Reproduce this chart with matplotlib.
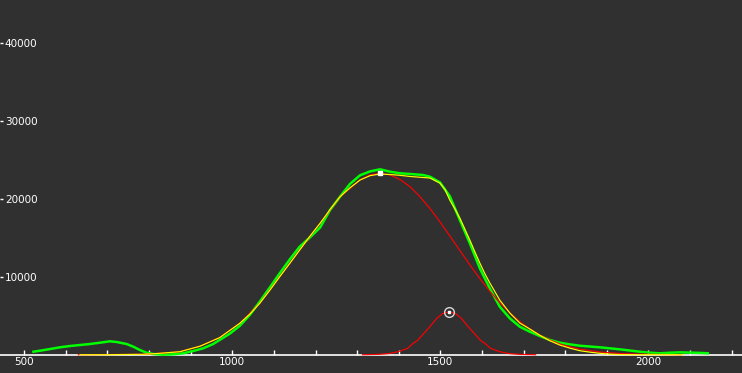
import numpy as np
import matplotlib
matplotlib.use("Agg")
import matplotlib.pyplot as plt
from matplotlib.ticker import MultipleLocator, FixedLocator

# measured spectrum (green)
meas_x = [522, 538, 562, 586, 610, 634, 658, 682, 706, 722, 746, 762, 778, 794, 810, 834, 858,
          882, 906, 930, 954, 970, 994, 1018, 1042, 1066, 1090, 1114, 1138, 1162, 1186, 1211,
          1235, 1259, 1283, 1307, 1331, 1355, 1379, 1403, 1427, 1458, 1475, 1499, 1523, 1547,
          1571, 1595, 1619, 1643, 1667, 1691, 1715, 1739, 1763, 1787, 1811, 1835, 1859, 1883,
          1907, 1931, 1955, 1979, 2003, 2027, 2051, 2075, 2091, 2107, 2125, 2143]
meas_y = [385, 513, 730, 950, 1115, 1244, 1372, 1540, 1718, 1628, 1372, 1026, 600, 256, 90, 0, 50,
          180, 474, 820, 1372, 1900, 2700, 3700, 5100, 6800, 8600, 10436, 12200, 13850, 15000, 16300,
          18550, 20256, 21900, 23000, 23500, 23770, 23460, 23260, 23170, 23040, 22820, 22100, 20300, 17270,
          14280, 11080, 8510, 6150, 4670, 3590, 2950, 2400, 1900, 1540, 1330, 1150, 1050, 950,
          820, 690, 540, 385, 260, 180, 250, 300, 280, 256, 230, 180]

# total fit (yellow)
fit_x = [634, 700, 785, 826, 874, 923, 970, 1018, 1042, 1066, 1090, 1114, 1138, 1162, 1186, 1211,
         1235, 1259, 1283, 1307, 1331, 1355, 1379, 1403, 1427, 1451, 1475, 1499, 1511, 1523, 1535,
         1547, 1559, 1571, 1583, 1595, 1607, 1619, 1631, 1643, 1667, 1691, 1715, 1739, 1763, 1787,
         1811, 1835, 1859, 1883, 1907, 1931, 1960, 2083]
fit_y = [0, 0, 50, 180, 385, 1100, 2200, 4026, 5200, 6590, 8250, 10000, 11700, 13423, 15150, 16846,
         18600, 20256, 21400, 22397, 22950, 23167, 23100, 23000, 22850, 22750, 22650, 22000, 21200, 19800, 18700,
         17500, 16100, 14700, 13200, 11750, 10400, 9200, 8100, 7000, 5350, 4060, 3300, 2500, 1800, 1244,
         850, 513, 330, 180, 80, 20, 0, 0]

# component 1 (red, broad)
p1_x = [630, 785, 826, 874, 923, 970, 1018, 1066, 1114, 1162, 1211, 1259, 1307, 1331, 1355, 1379,
        1403, 1427, 1451, 1475, 1499, 1523, 1547, 1571, 1595, 1619, 1643, 1667, 1691, 1715, 1739,
        1763, 1787, 1811, 1835, 1883, 1931, 1979, 2080]
p1_y = [0, 50, 180, 385, 1100, 2200, 4026, 6590, 10000, 13423, 16846, 20256, 22397, 23050, 23256, 23050,
        22460, 21550, 20270, 18750, 17040, 15220, 13360, 11520, 9770, 8140, 6660, 5370, 4240, 3290, 2515,
        1890, 1393, 1010, 720, 346, 156, 65, 0]

# component 2 (red, narrow)
p2_x = [1313, 1351, 1376, 1399, 1421, 1435, 1445, 1460, 1475, 1490, 1505, 1521, 1537, 1552, 1567,
        1582, 1597, 1607, 1621, 1643, 1666, 1691, 1729]
p2_y = [0, 40, 140, 385, 807, 1460, 1820, 2700, 3590, 4580, 5260, 5513, 5260, 4580, 3590,
        2700, 1820, 1460, 807, 385, 140, 40, 0]

bg = '#303030'
fig = plt.figure(figsize=(7.42, 3.73), dpi=100, facecolor=bg)
ax = fig.add_axes([0, 0, 1, 1], facecolor=bg)

ax.plot(meas_x, meas_y, color='#00ff00', lw=1.8, zorder=2)
ax.plot(p1_x, p1_y, color='#ff0000', lw=0.85, zorder=3)
ax.plot(p2_x, p2_y, color='#ff0000', lw=0.85, zorder=3)
ax.plot(fit_x, fit_y, color='#ffff00', lw=0.85, zorder=4)

# peak markers
i1 = int(np.argmax(p1_y))
i2 = int(np.argmax(p2_y))
ax.plot(p1_x[i1], p1_y[i1], marker='s', ms=2.5, mfc='white', mec='white', zorder=5)
ax.plot(p2_x[i2], p2_y[i2], marker='o', ms=7, mfc='none', mec='#d8d8d8', mew=1.0, zorder=5)
ax.plot(p2_x[i2], p2_y[i2], marker='s', ms=2, mfc='white', mec='white', zorder=6)

ax.set_xlim(441.6, 2225.2)
ax.set_ylim(-2346, 45474)

for s in ['top', 'right', 'left']:
    ax.spines[s].set_visible(False)
ax.spines['bottom'].set_position(('data', 0))
ax.spines['bottom'].set_color('white')
ax.spines['bottom'].set_linewidth(1.2)
ax.spines['bottom'].set_zorder(1)

ax.xaxis.set_major_locator(FixedLocator([500, 1000, 1500, 2000]))
ax.xaxis.set_minor_locator(MultipleLocator(100))
ax.tick_params(axis='x', which='both', direction='in', length=3.5, width=1, color='white',
               labelcolor='white', labelsize=7.5, pad=2)

ax.yaxis.set_major_locator(FixedLocator([10000, 20000, 30000, 40000]))
ax.tick_params(axis='y', direction='in', length=2.5, width=1, color='white',
               labelcolor='white', labelsize=7.5, pad=-3.5)
for lab in ax.get_yticklabels():
    lab.set_horizontalalignment('left')

plt.savefig('out.png', dpi=100, facecolor=bg)
